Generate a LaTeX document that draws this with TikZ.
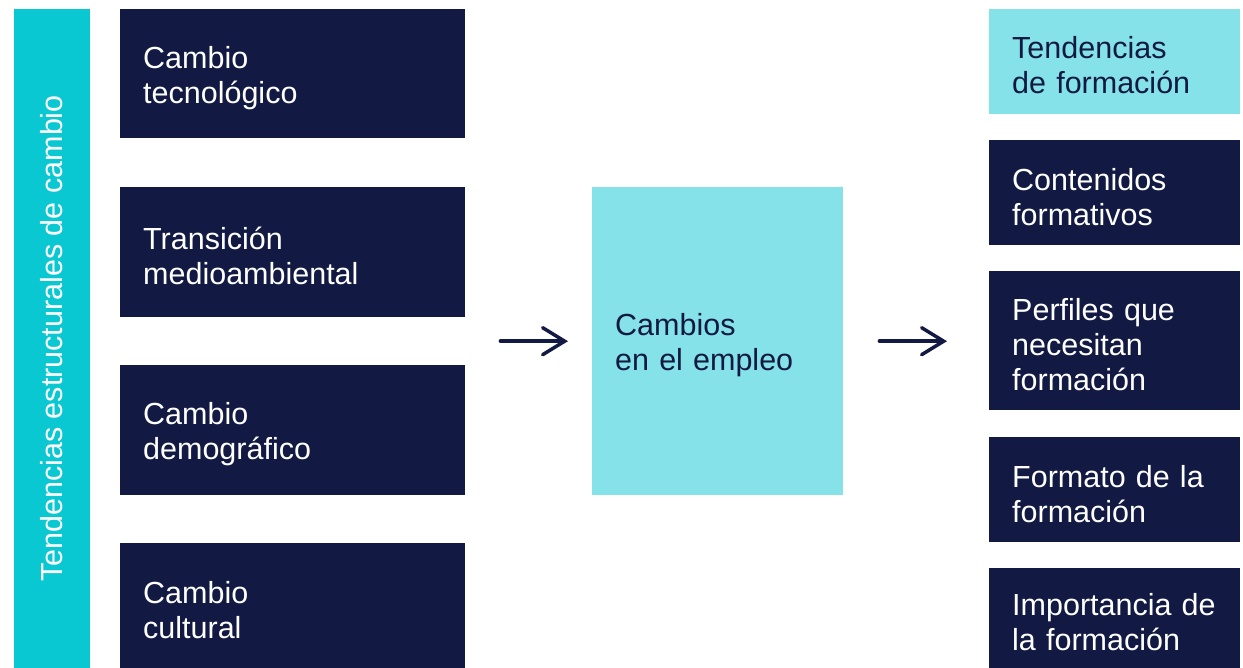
\documentclass[tikz,border=0pt]{standalone}
\usepackage{fontspec}
\setmainfont{Liberation Sans}
\usetikzlibrary{arrows.meta,positioning}
\definecolor{marino}{HTML}{121A44}
\definecolor{turquesa}{HTML}{0AC8D2}
\definecolor{celeste}{HTML}{84E2E8}

\begin{document}
\begin{tikzpicture}[x=1pt,y=-1pt,
  caja/.style={rectangle, anchor=north west, inner xsep=23pt, inner ysep=0pt, align=left,
               font=\fontsize{30.5}{35}\selectfont, execute at end node={\endgraf\vspace{-8pt}}},
  oscura/.style={caja, fill=marino, text=white},
  clara/.style={caja, fill=celeste, text=marino},
  flecha/.style={draw=marino, line width=3.5pt, line cap=round, -{Straight Barb[length=22pt,width=27pt,line cap=round]}}]
  \useasboundingbox (0,0) rectangle (1243,668);
  \node[fill=turquesa, rotate=90, minimum width=659pt, minimum height=76pt, inner sep=0pt,
        text=white, font=\fontsize{30.5}{35}\selectfont] (barra) at (52,338.5) {Tendencias estructurales de cambio};
  \foreach \n/\y/\h/\txt in {t1/9/129/{Cambio\\tecnológico}, t2/187/130/{Transición\\medioambiental},
                             t3/365/130/{Cambio\\demográfico}, t4/543/125/{Cambio\\cultural}} {
    \node[oscura, text width=299pt, minimum height=\h pt] (\n) at (120,\y) {\txt};
  }
  \node[clara, text width=205pt, minimum height=308pt] (empleo) at (592,187) {Cambios\\en el empleo};
  \node[clara, text width=205pt, minimum height=104.5pt] (r1) at (989,9) {Tendencias\\de formación};
  \foreach \n/\y/\h/\txt in {r2/140/105/{Contenidos\\formativos}, r3/271/139/{Perfiles que\\necesitan\\formación},
                             r4/437/105/{Formato de la\\formación}, r5/568/100/{Importancia de\\la formación}} {
    \node[oscura, text width=205pt, minimum height=\h pt] (\n) at (989,\y) {\txt};
  }
  \draw[flecha] ([xshift=35pt]empleo.west -| t2.east) -- ([xshift=-24pt]empleo.west);
  \draw[flecha] ([xshift=36pt]empleo.east) -- ([xshift=-42pt]empleo.east -| r3.west);
\end{tikzpicture}
\end{document}
